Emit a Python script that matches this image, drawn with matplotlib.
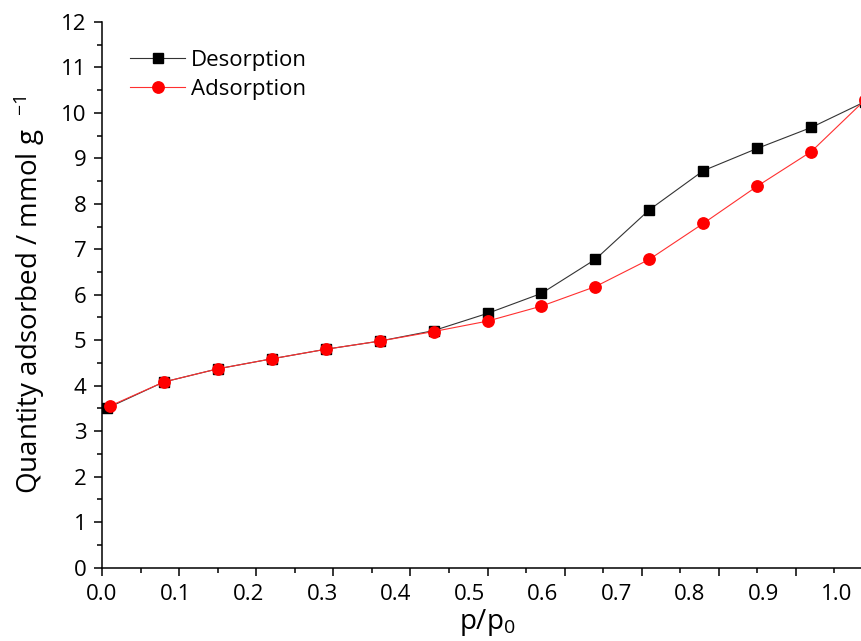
import matplotlib
matplotlib.use("Agg")
import matplotlib.pyplot as plt
import numpy as np

# relative pressure p/p0
p_des = [0.006, 0.08, 0.15, 0.22, 0.29, 0.36, 0.43, 0.50, 0.57, 0.64, 0.71, 0.78, 0.85, 0.92, 0.99]
p_ads = [0.01, 0.08, 0.15, 0.22, 0.29, 0.36, 0.43, 0.50, 0.57, 0.64, 0.71, 0.78, 0.85, 0.92, 0.99]

# quantity adsorbed, mmol/g
q_des = [3.50, 4.08, 4.37, 4.59, 4.80, 4.98, 5.21, 5.59, 6.03, 6.78, 7.87, 8.73, 9.22, 9.68, 10.25]
q_ads = [3.55, 4.08, 4.37, 4.59, 4.80, 4.98, 5.19, 5.42, 5.75, 6.18, 6.78, 7.57, 8.39, 9.15, 10.29]

x_labels = np.arange(0.0, 1.01, 0.1)

plt.rcParams["font.family"] = ["Open Sans", "DejaVu Sans"]
plt.rcParams["mathtext.fontset"] = "custom"
plt.rcParams["mathtext.rm"] = "Open Sans"
plt.rcParams["mathtext.default"] = "regular"

fig = plt.figure(figsize=(8.62, 6.41), dpi=100)
ax = fig.add_axes([102 / 862, 73.5 / 641, 771 / 862, 545.5 / 641])

ax.plot(p_des, q_des, color="#333333", lw=0.8, marker="s", ms=7.5,
        mfc="black", mec="black", label="Desorption", zorder=3)
ax.plot(p_ads, q_ads, color="#ff3030", lw=0.8, marker="o", ms=8.2,
        mfc="red", mec="red", label="Adsorption", zorder=4)

ax.set_xlim(0, 1.0)
ax.set_ylim(0, 12)
for side in ("top", "right"):
    ax.spines[side].set_visible(False)
for side in ("left", "bottom"):
    ax.spines[side].set_linewidth(1.1)

ax.set_xticks(np.arange(0, 1.01, 0.1))
ax.set_xticks(np.arange(0.05, 1.0, 0.1), minor=True)
ax.set_yticks(np.arange(0, 12.1, 1))
ax.set_yticks(np.arange(0.5, 12, 1), minor=True)
ax.tick_params(which="major", direction="out", length=6, width=1.1, labelsize=16, pad=5)
ax.tick_params(which="minor", direction="out", length=3.5, width=1.1)
ax.tick_params(axis="x", labelbottom=False)

# tick labels of the original sit on a slightly compressed scale
scale = 0.953
sec = ax.secondary_xaxis("bottom", functions=(lambda x: x / scale,
                                              lambda x: x * scale))
sec.set_xticks(x_labels)
sec.set_xticklabels([f"{v:.1f}" for v in x_labels])
sec.tick_params(length=0, labelsize=16, pad=12)
sec.spines["bottom"].set_visible(False)
sec.set_xlabel("p/p$_0$", fontsize=20, labelpad=1)

ax.set_ylabel("Quantity adsorbed / mmol g  $^{-1}$", fontsize=20, labelpad=10)

ax.legend(loc="upper left", frameon=False, fontsize=16, handlelength=2.5,
          handletextpad=0.25, labelspacing=0.38, borderaxespad=0.85)

fig.savefig("out.png", dpi=100)
